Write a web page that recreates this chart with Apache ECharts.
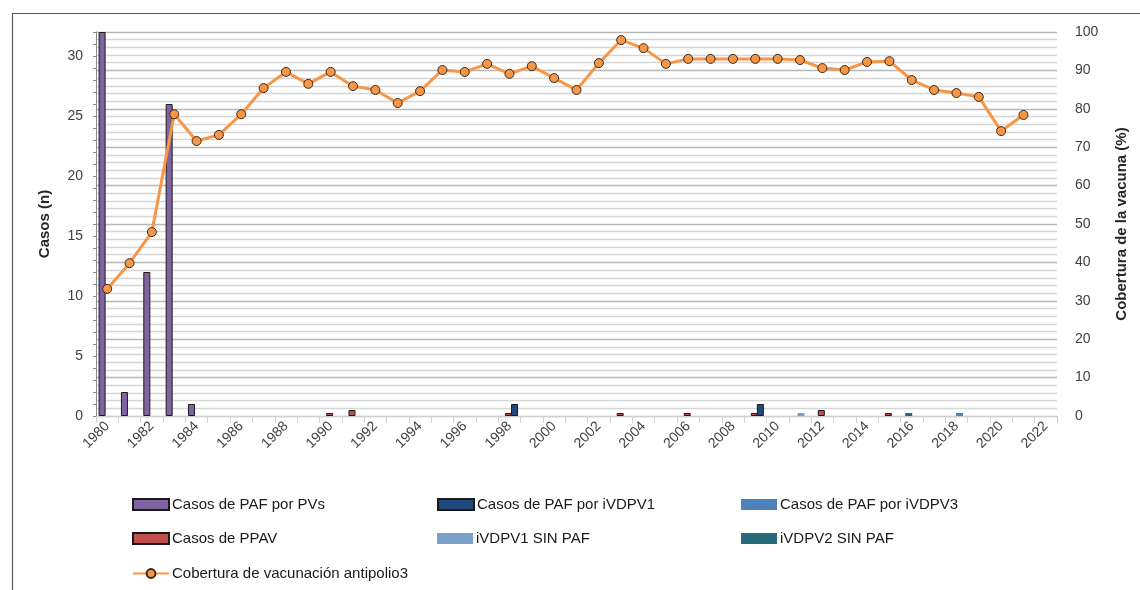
<!DOCTYPE html>
<html>
<head>
<meta charset="utf-8">
<script src="https://cdn.jsdelivr.net/npm/echarts@6/dist/echarts.min.js"></script>
<style>
  html, body { margin: 0; padding: 0; background: #ffffff; }
  #chart { width: 1140px; height: 590px; }
</style>
</head>
<body>
<div id="chart"></div>
<script>
// Years on the category axis
const years = [];
for (let y = 1980; y <= 2022; y++) years.push(String(y));

// Cases (n) per year, by type
const casosPVs = [32, 2, 12, 26, 1, 0, 0, 0, 0, 0, 0, 0, 0, 0, 0, 0, 0, 0, 0, 0, 0, 0, 0, 0, 0, 0, 0, 0, 0, 0, 0, 0, 0, 0, 0, 0, 0, 0, 0, 0, 0, 0, 0];
const casosIVDPV1 = [0, 0, 0, 0, 0, 0, 0, 0, 0, 0, 0, 0, 0, 0, 0, 0, 0, 0, 1, 0, 0, 0, 0, 0, 0, 0, 0, 0, 0, 1, 0, 0, 0, 0, 0, 0, 0, 0, 0, 0, 0, 0, 0];
const casosIVDPV3 = [0, 0, 0, 0, 0, 0, 0, 0, 0, 0, 0, 0, 0, 0, 0, 0, 0, 0, 0, 0, 0, 0, 0, 0, 0, 0, 0, 0, 0, 0, 0, 0, 0, 0, 0, 0, 0, 0, 0.25, 0, 0, 0, 0];
const casosPPAV = [0, 0, 0, 0, 0, 0, 0, 0, 0, 0, 0.25, 0.5, 0, 0, 0, 0, 0, 0, 0.25, 0, 0, 0, 0, 0.25, 0, 0, 0.25, 0, 0, 0.25, 0, 0, 0.5, 0, 0, 0.25, 0, 0, 0, 0, 0, 0, 0];
const ivdpv1SinPAF = [0, 0, 0, 0, 0, 0, 0, 0, 0, 0, 0, 0, 0, 0, 0, 0, 0, 0, 0, 0, 0, 0, 0, 0, 0, 0, 0, 0, 0, 0, 0, 0.25, 0, 0, 0, 0, 0, 0, 0, 0, 0, 0, 0];
const ivdpv2SinPAF = [0, 0, 0, 0, 0, 0, 0, 0, 0, 0, 0, 0, 0, 0, 0, 0, 0, 0, 0, 0, 0, 0, 0, 0, 0, 0, 0, 0, 0, 0, 0, 0, 0, 0, 0, 0, 0.25, 0, 0, 0, 0, 0, 0];

// Polio3 vaccination coverage (%), 1980-2021
const cobertura = [33.1, 39.8, 47.9, 78.6, 71.6, 73.2, 78.6, 85.4, 89.6, 86.5, 89.6, 85.9, 84.9, 81.5, 84.6, 90.1, 89.6, 91.7, 89.1, 91.1, 88.0, 84.9, 91.9, 97.9, 95.8, 91.7, 93.0, 93.0, 93.0, 93.0, 93.0, 92.7, 90.6, 90.1, 92.2, 92.4, 87.5, 84.9, 84.1, 83.1, 74.2, 78.4, null];

// Axis ticks
const casosMax = 32, casosStep = 5;
const coberturaMax = 100, coberturaStep = 10;

const FONT = "'Liberation Sans', Arial, sans-serif";

const names = {
  pvs: 'Casos de PAF por PVs',
  v1: 'Casos de PAF por iVDPV1',
  v3: 'Casos de PAF por iVDPV3',
  ppav: 'Casos de PPAV',
  s1: 'iVDPV1 SIN PAF',
  s2: 'iVDPV2 SIN PAF',
  cob: 'Cobertura de vacunación antipolio3'
};

// Years without cases get no bar at all
function bar(name, data, color, border) {
  return {
    name: name,
    type: 'bar',
    yAxisIndex: 0,
    data: data.map(v => (v === 0 ? null : v)),
    barWidth: 7,
    barGap: '-71%',
    itemStyle: border
      ? { color: color, borderColor: '#1a1a1a', borderWidth: 1 }
      : { color: color },
    emphasis: { disabled: true }
  };
}

function legendAt(name, left, top, icon) {
  return {
    data: [name],
    left: left,
    top: top,
    padding: 0,
    itemWidth: 36,
    itemHeight: 11,
    itemGap: 0,
    icon: icon,
    selectedMode: false,
    textStyle: { fontFamily: FONT, fontSize: 15, color: '#1a1a1a', padding: [0, 0, 0, -2] }
  };
}

const chart = echarts.init(document.getElementById('chart'), null, { renderer: 'canvas' });

chart.setOption({
  backgroundColor: '#ffffff',
  animation: false,
  graphic: [{
    type: 'rect',
    left: 10, top: 11,
    shape: { width: 1200, height: 700 },
    style: { fill: 'none', stroke: '#595959', lineWidth: 1.2 },
    silent: true
  }],
  legend: [
    legendAt(names.pvs, 132, 497, 'rect'),
    legendAt(names.v1, 437, 497, 'rect'),
    legendAt(names.v3, 741, 497, 'rect'),
    legendAt(names.ppav, 132, 531, 'rect'),
    legendAt(names.s1, 437, 531, 'rect'),
    legendAt(names.s2, 741, 531, 'rect'),
    legendAt(names.cob, 132, 566, undefined)
  ],
  grid: { left: 96, right: 83, top: 32, bottom: 174 },
  xAxis: {
    type: 'category',
    data: years,
    boundaryGap: true,
    axisLine: { lineStyle: { color: '#d0d0d0', width: 1 } },
    axisTick: { show: true, interval: 0, length: 7, lineStyle: { color: '#d0d0d0' } },
    axisLabel: {
      interval: 1,
      rotate: 45,
      margin: 8,
      fontFamily: FONT,
      fontSize: 14,
      color: '#404040'
    },
    splitLine: { show: false }
  },
  yAxis: [
    {
      type: 'value',
      min: 0,
      max: casosMax,
      interval: casosStep,
      position: 'left',
      name: 'Casos (n)',
      nameLocation: 'middle',
      nameRotate: 90,
      nameGap: 44,
      nameTextStyle: { fontFamily: FONT, fontSize: 15, fontWeight: 'bold', color: '#262626' },
      axisLine: { show: true, lineStyle: { color: '#8c8c8c', width: 1 } },
      axisTick: { show: true, length: 3, lineStyle: { color: '#8c8c8c' } },
      minorTick: { show: true, splitNumber: 5, length: 3, lineStyle: { color: '#8c8c8c' } },
      axisLabel: { showMaxLabel: false, margin: 13, fontFamily: FONT, fontSize: 14, color: '#404040' },
      splitLine: { show: false }
    },
    {
      type: 'value',
      min: 0,
      max: coberturaMax,
      interval: coberturaStep,
      position: 'right',
      name: 'Cobertura de la vacuna (%)',
      nameLocation: 'middle',
      nameRotate: 90,
      nameGap: 57,
      nameTextStyle: { fontFamily: FONT, fontSize: 15, fontWeight: 'bold', color: '#262626' },
      axisLine: { show: false },
      axisTick: { show: false },
      axisLabel: { margin: 18, fontFamily: FONT, fontSize: 14, color: '#404040' },
      splitLine: { show: true, lineStyle: { color: '#b8b8b8', width: 1.3 } },
      minorTick: { show: false, splitNumber: 5 },
      minorSplitLine: { show: true, lineStyle: { color: '#d6d6d6', width: 1.3 } }
    }
  ],
  series: [
    bar(names.pvs, casosPVs, '#8064A2', true),
    bar(names.s2, ivdpv2SinPAF, '#276A7C', false),
    bar(names.ppav, casosPPAV, '#C0504D', true),
    bar(names.s1, ivdpv1SinPAF, '#7BA0CD', false),
    bar(names.v3, casosIVDPV3, '#4F81BD', false),
    bar(names.v1, casosIVDPV1, '#1F497D', true),
    {
      name: names.cob,
      type: 'line',
      yAxisIndex: 1,
      data: cobertura,
      z: 5,
      symbol: 'circle',
      symbolSize: 9,
      lineStyle: { color: '#F79646', width: 3 },
      itemStyle: { color: '#F79646', borderColor: '#3a2a1a', borderWidth: 1 },
      emphasis: { disabled: true }
    }
  ]
});
</script>
</body>
</html>
